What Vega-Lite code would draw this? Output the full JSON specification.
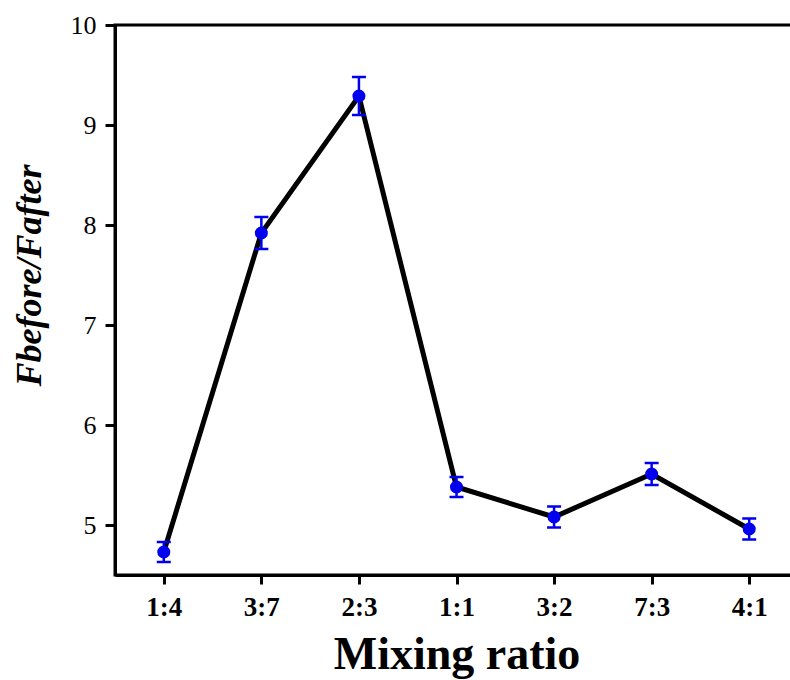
{
  "$schema": "https://vega.github.io/schema/vega-lite/v6.json",
  "autosize": "none",
  "width": 683,
  "height": 550,
  "padding": {"left": 115, "top": 25, "right": 0, "bottom": 105},
  "background": "white",
  "config": {
    "view": {"stroke": "black", "strokeWidth": 3},
    "font": "Times New Roman"
  },
  "data": {
    "values": [
      {"ratio": "1:4", "value": 4.73, "err": 0.10},
      {"ratio": "3:7", "value": 7.92, "err": 0.16},
      {"ratio": "2:3", "value": 9.29, "err": 0.19},
      {"ratio": "1:1", "value": 5.38, "err": 0.10},
      {"ratio": "3:2", "value": 5.08, "err": 0.105},
      {"ratio": "7:3", "value": 5.51, "err": 0.11},
      {"ratio": "4:1", "value": 4.96, "err": 0.105}
    ]
  },
  "encoding": {
    "x": {
      "field": "ratio",
      "type": "ordinal",
      "sort": null,
      "scale": {"type": "point", "padding": 0.5},
      "axis": {
        "title": "Mixing ratio",
        "titleFont": "Times New Roman",
        "titleFontSize": 46,
        "titleFontWeight": "bold",
        "titleColor": "black",
        "titlePadding": 12,
        "labelAngle": 0,
        "labelFont": "Times New Roman",
        "labelFontSize": 27,
        "labelFontWeight": "bold",
        "labelColor": "black",
        "labelPadding": 10,
        "domainColor": "black",
        "domainWidth": 3,
        "tickColor": "black",
        "tickWidth": 3,
        "tickSize": 9,
        "grid": false
      }
    }
  },
  "layer": [
    {
      "mark": {"type": "line", "color": "black", "strokeWidth": 5},
      "encoding": {
        "y": {
          "field": "value",
          "type": "quantitative",
          "title": "Fbefore/Fafter",
          "scale": {"domain": [4.5, 10], "nice": false, "zero": false},
          "axis": {
            "titleFont": "Times New Roman",
            "titleFontSize": 36,
            "titleFontWeight": "bold",
            "titleFontStyle": "italic",
            "titleColor": "black",
            "titlePadding": 22,
            "titleY": 250,
            "values": [5, 5.5, 6, 6.5, 7, 7.5, 8, 8.5, 9, 9.5, 10],
            "format": "d",
            "labelExpr": "datum.value % 1 === 0 ? datum.label : ''",
            "labelFont": "Times New Roman",
            "labelFontSize": 26,
            "labelColor": "black",
            "labelPadding": 9,
            "domainColor": "black",
            "domainWidth": 3,
            "tickColor": "black",
            "tickWidth": 3,
            "tickSize": {"condition": {"test": "datum.value % 1 === 0", "value": 10}, "value": 5},
            "grid": false
          }
        }
      }
    },
    {
      "mark": {
        "type": "errorbar",
        "color": "#0000ee",
        "thickness": 2.5,
        "rule": {"color": "#0000ee", "strokeWidth": 2.5, "opacity": 1},
        "ticks": {"size": 14, "thickness": 2.5, "color": "#0000ee", "opacity": 1}
      },
      "encoding": {
        "y": {"field": "value", "type": "quantitative", "title": "Fbefore/Fafter"},
        "yError": {"field": "err"}
      }
    },
    {
      "mark": {"type": "point", "filled": true, "shape": "circle", "size": 170, "color": "#0000ee", "opacity": 1},
      "encoding": {
        "y": {"field": "value", "type": "quantitative", "title": "Fbefore/Fafter"}
      }
    }
  ]
}
